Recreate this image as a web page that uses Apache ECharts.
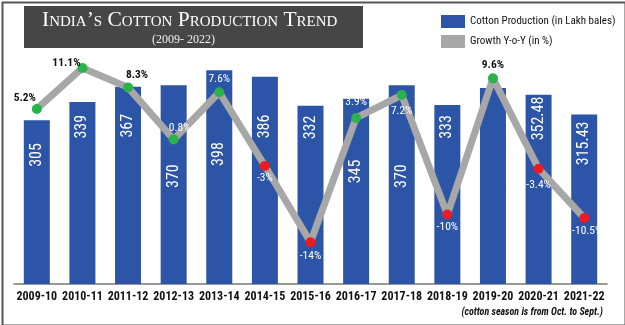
<!DOCTYPE html>
<html><head><meta charset="utf-8">
<script src="https://cdn.jsdelivr.net/npm/echarts@6/dist/echarts.min.js"></script>
<style>html,body{margin:0;padding:0;background:#fff}#c{width:625px;height:325px}</style>
</head><body><div id="c"></div>
<script>
// ---- data ----
const seasons = ['2009-10','2010-11','2011-12','2012-13','2013-14','2014-15','2015-16','2016-17','2017-18','2018-19','2019-20','2020-21','2021-22'];
const production = [305, 339, 367, 370, 398, 386, 332, 345, 370, 333, 365, 352.48, 315.43];
const productionLabelShown = [true,true,true,true,true,true,true,true,true,true,false,true,true];
const growth = [5.2, 11.1, 8.3, 0.8, 7.6, -3, -14, 3.9, 7.2, -10, 9.6, -3.4, -10.5];
const growthLabels = ['5.2%','11.1%','8.3%','0.8%','7.6%','-3%','-14%','3.9%','7.2%','-10%','9.6%','-3.4%','-10.5%'];

// ---- styles (label placement, not data) ----
const barLabelInset = [23, 13, 27, 79, 72, 38, 10, 61, 79, 10, 10, 2, 7];
const growthLabelPlace = [
  ['top',[-12,5],true],['top',[-16,11],true],['top',[9,4],true],['top',[6,5],false],
  ['top',[0,3],false],['bottom',[0,-4],false],['bottom',[0,-2],false],['top',[0,0],false],
  ['bottom',[0,0],false],['bottom',[0,-3],false],['top',[0,3],true],['bottom',[0,0],false],
  ['bottom',[3,-3],false]
];
const NARROW = '"Liberation Sans Narrow","Arial Narrow","Roboto Condensed",sans-serif';
const BLUE = '#2c55a7', GRAY = '#a7a7a7', GREEN = '#2bb24a', RED = '#ec1c24';

const chart = echarts.init(document.getElementById('c'), null, {renderer:'canvas'});
chart.setOption({
  backgroundColor:'#fff',
  animation:false,
  grid:{left:14, right:18, top:53, bottom:41},
  legend:{
    orient:'vertical', left:436, top:10, itemWidth:24, itemHeight:13, itemGap:7,
    textStyle:{fontFamily:NARROW, fontSize:11, color:'#111'},
    data:[{name:'Cotton Production (in Lakh bales)', icon:'rect'},{name:'Growth Y-o-Y (in %)', icon:'rect'}]
  },
  xAxis:{
    type:'category', data:seasons,
    axisLine:{lineStyle:{color:'#777', width:1.5}},
    axisTick:{show:false},
    axisLabel:{fontFamily:NARROW, fontSize:12, fontWeight:'bold', color:'#111', margin:7, interval:0}
  },
  yAxis:[
    {type:'value', min:0, max:430, show:false, splitLine:{show:false}},
    {type:'value', min:-20, max:13.25, show:false, splitLine:{show:false}}
  ],
  series:[
    {
      name:'Cotton Production (in Lakh bales)', type:'bar', barWidth:26,
      itemStyle:{color:BLUE},
      data: production.map((v,i)=>({
        value:v,
        label:{show:productionLabelShown[i], distance:barLabelInset[i]}
      })),
      label:{
        show:true, position:'insideTop', rotate:90, align:'right', verticalAlign:'middle',
        color:'#fff', fontFamily:NARROW, fontSize:16
      }
    },
    {
      name:'Growth Y-o-Y (in %)', type:'line', yAxisIndex:1, z:5,
      symbol:'circle', symbolSize:10,
      lineStyle:{color:GRAY, width:7},
      itemStyle:{color:GRAY},
      data: growth.map((v,i)=>({
        value:v,
        itemStyle:{color: v>=0 ? GREEN : RED},
        label:{
          show:true, position:growthLabelPlace[i][0], offset:growthLabelPlace[i][1],
          formatter: growthLabels[i],
          color: growthLabelPlace[i][2] ? '#111' : '#fff',
          fontWeight: growthLabelPlace[i][2] ? 'bold' : 'normal',
          fontFamily:NARROW, fontSize:11.5
        }
      }))
    }
  ],
  graphic:[
    {type:'rect', left:0, top:0, shape:{x:0,y:0,width:623,height:323}, style:{fill:'none', stroke:'#555', lineWidth:2}, silent:true, z:-1},
    {type:'rect', left:24, top:6, shape:{x:0,y:0,width:339,height:42}, style:{fill:'#464646'}, z:10},
    {type:'text', left:42, top:9, z:11, style:{text:"India\u2019s Cotton Production Trend", fill:'#fff', font:'small-caps 21.5px "Liberation Serif", serif'}},
    {type:'text', left:152, top:34, z:11, style:{text:'(2009- 2022)', fill:'#eee', font:'12px "Liberation Serif", serif'}},
    {type:'text', right:22, top:307, z:11, style:{text:'(cotton season is from Oct. to Sept.)', fill:'#111', font:'italic bold 10px '+NARROW}}
  ]
});
</script></body></html>
